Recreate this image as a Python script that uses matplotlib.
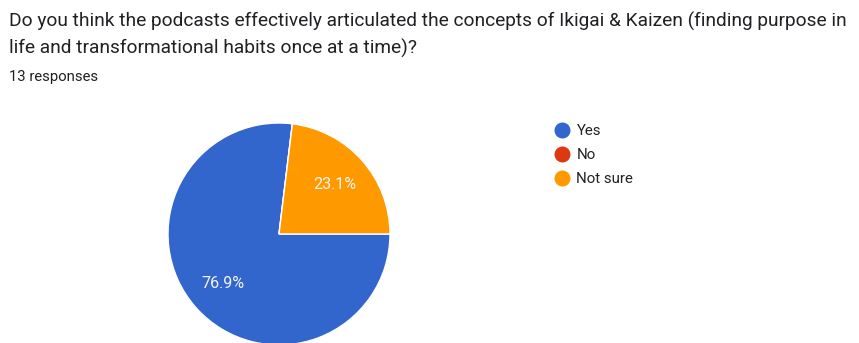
import matplotlib
matplotlib.use("Agg")
import matplotlib.pyplot as plt
from matplotlib.lines import Line2D

# Survey responses
question_lines = [
    "Do you think the podcasts effectively articulated the concepts of Ikigai & Kaizen (finding purpose in",
    "life and transformational habits once at a time)?",
]
response_note = "13 responses"
categories = ["Yes", "No", "Not sure"]
counts = [10, 0, 3]
colors = ["#3366CC", "#DC3912", "#FF9900"]

W, H = 859, 343
plt.rcParams["font.family"] = ["Roboto", "DejaVu Sans"]
fig = plt.figure(figsize=(W / 100, H / 100), dpi=100)
fig.patch.set_facecolor("white")

def fx(px):
    return px / W

def fy(py):
    return 1 - py / H

# Heading
fig.text(fx(9), fy(26.5), question_lines[0], fontsize=13.75, color="#202124", va="baseline", ha="left")
fig.text(fx(9), fy(54), question_lines[1], fontsize=13.75, color="#202124", va="baseline", ha="left")
fig.text(fx(9), fy(80.5), response_note, fontsize=10.7, color="#202124", va="baseline", ha="left")

# Pie
cx, cy, r = 279, 234, 111
ax = fig.add_axes([fx(cx - r), fy(cy + r), 2 * r / W, 2 * r / H])

def pct_label(p):
    return f"{p:.1f}%" if p > 0.5 else ""

wedges, texts, autotexts = ax.pie(
    counts,
    colors=colors,
    startangle=0,
    counterclock=False,
    autopct=pct_label,
    pctdistance=0.67,
    radius=1,
    wedgeprops=dict(edgecolor="white", linewidth=1),
    textprops=dict(color="#F4F4F4", fontsize=11.6),
)
ax.set_xlim(-1.0, 1.0)
ax.set_ylim(-1.0, 1.0)
ax.set_axis_off()

# Legend
handles = [
    Line2D([], [], marker="o", linestyle="none", markersize=10.5,
           markerfacecolor=c, markeredgecolor=c)
    for c in colors
]
fig.legend(
    handles, categories,
    loc="upper left",
    bbox_to_anchor=(fx(554), fy(124)),
    frameon=False,
    fontsize=10.8,
    handlelength=1.0,
    handletextpad=0.5,
    labelspacing=0.68,
    borderaxespad=0,
    borderpad=0,
    labelcolor="#222222",
)

fig.savefig("out.png", dpi=100, facecolor="white")
